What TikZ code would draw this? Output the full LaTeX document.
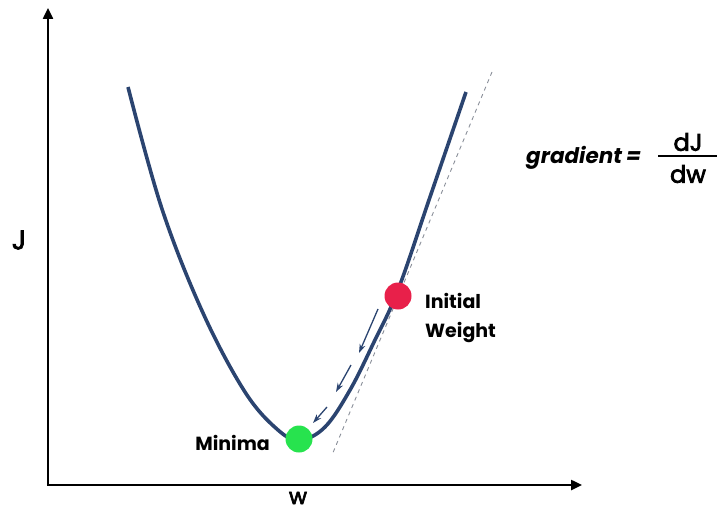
\documentclass[tikz,border=0pt]{standalone}
\usepackage{fontspec}
\setmainfont{Poppins}
\newfontfamily\medfont[FakeBold=3]{Poppins}
\usepackage{tikz}
\usetikzlibrary{arrows.meta,positioning,calc}
\definecolor{CurveNavy}{HTML}{2B4470}
\definecolor{DotRed}{HTML}{E8204A}
\definecolor{DotGreen}{HTML}{27E34E}
\definecolor{TanGrey}{HTML}{8A8F99}
\tikzset{
  axis/.style={-{Triangle[length=11pt,width=10pt]},line width=2.4pt,black},
  curve/.style={line width=3.6pt,CurveNavy},
  tangent/.style={dashed,dash pattern=on 4pt off 4pt,line width=0.9pt,TanGrey},
  stepArr/.style={-{Stealth[length=9pt,width=6pt]},line width=1.3pt,CurveNavy},
  dot/.style={circle,inner sep=0pt,minimum size=27pt},
  lbl/.style={font=\fontsize{19}{29}\selectfont\bfseries,align=left,inner sep=0pt},
  med/.style={font=\fontsize{#1}{#1}\selectfont\medfont,inner sep=0pt}
}
\begin{document}
\begin{tikzpicture}[x=1pt,y=-1pt]
  \useasboundingbox (0,0) rectangle (719,513);
  % axes
  \coordinate (origin) at (48,485);
  \coordinate (ytop) at (48,8);
  \coordinate (xend) at (582,485);
  \draw[axis] (origin) -- (ytop);
  \draw[axis] ([xshift=-1.2pt]origin) -- (xend);
  \node[med=27] (jlab) at (19,240) {J};
  \node[med=22] (wlab) at (298,498) {w};

  % tangent at the initial weight
  \coordinate (tanA) at (492,72);
  \coordinate (tanB) at (332,455);
  \draw[tangent] (tanA) -- (tanB);

  % cost curve
  \draw[curve] plot[smooth,tension=0.6] coordinates
    {(128,87) (162,209) (203,313) (245,392) (278,430) (300,440)
     (325,427) (350,390) (374,342) (398,290) (430,197) (466,92)};

  % points
  \node[dot,fill=DotRed] (init) at (398,296) {};
  \node[dot,fill=DotGreen] (mini) at (299,439) {};
  \node[lbl,anchor=west] (initlab) at (425,318) {Initial\\Weight};
  \node[lbl,anchor=east] (minlab) at (270,443) {Minima};

  % descent steps
  \coordinate (s1a) at (378,309);
  \coordinate (s1b) at (359,353);
  \coordinate (s2a) at (351,365);
  \coordinate (s2b) at (336,392);
  \coordinate (s3a) at (327,407);
  \coordinate (s3b) at (313,423);
  \draw[stepArr] (s1a) -- (s1b);
  \draw[stepArr] (s2a) -- (s2b);
  \draw[stepArr] (s3a) -- (s3b);

  % gradient formula
  \node[font=\fontsize{21.5}{21.5}\selectfont\bfseries\itshape,anchor=west,inner sep=0pt] (grad) at (526,158)
    {gradient\hspace{4pt}=};
  \node[med=24] (num) at (688,142) {dJ};
  \node[med=24] (den) at (688,174) {dw};
  \draw[line width=1.6pt] (658,156) -- (717,156);
\end{tikzpicture}
\end{document}
